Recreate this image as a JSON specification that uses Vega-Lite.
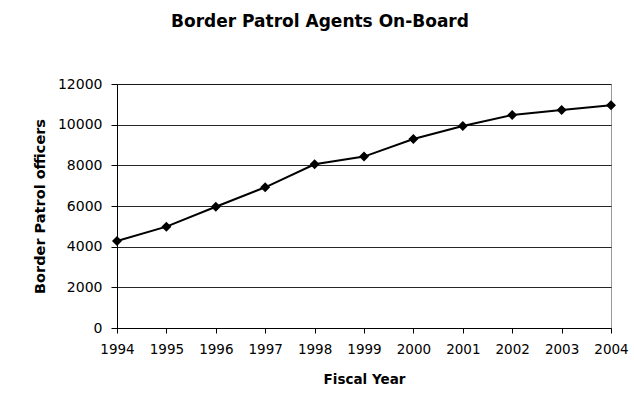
{
  "$schema": "https://vega.github.io/schema/vega-lite/v6.json",
  "autosize": "none",
  "width": 494,
  "height": 244,
  "padding": {"left": 117, "top": 84, "right": 23, "bottom": 76},
  "background": "white",
  "title": {
    "text": "Border Patrol Agents On-Board",
    "font": "DejaVu Sans",
    "fontSize": 17,
    "fontWeight": "bold",
    "color": "black",
    "anchor": "middle",
    "frame": "group",
    "dx": -44,
    "offset": 46
  },
  "data": {
    "values": [
      {"year": "1994", "officers": 4280},
      {"year": "1995", "officers": 4985},
      {"year": "1996", "officers": 5965},
      {"year": "1997", "officers": 6920},
      {"year": "1998", "officers": 8050},
      {"year": "1999", "officers": 8430},
      {"year": "2000", "officers": 9295},
      {"year": "2001", "officers": 9935},
      {"year": "2002", "officers": 10475},
      {"year": "2003", "officers": 10720},
      {"year": "2004", "officers": 10950}
    ]
  },
  "encoding": {
    "x": {
      "field": "year",
      "type": "ordinal",
      "scale": {"type": "point", "padding": 0},
      "axis": {
        "title": "Fiscal Year",
        "labelAngle": 0,
        "labelFont": "DejaVu Sans",
        "labelFontSize": 13.5,
        "labelColor": "black",
        "labelPadding": 9,
        "titleFont": "DejaVu Sans",
        "titleFontSize": 13.5,
        "titleFontWeight": "bold",
        "titleColor": "black",
        "titlePadding": 17,
        "domainColor": "black",
        "tickColor": "black",
        "tickSize": 5,
        "grid": false
      }
    },
    "y": {
      "field": "officers",
      "type": "quantitative",
      "scale": {"domain": [0, 12000], "nice": false},
      "axis": {
        "title": "Border Patrol officers",
        "values": [0, 2000, 4000, 6000, 8000, 10000, 12000],
        "format": "d",
        "labelFont": "DejaVu Sans",
        "labelFontSize": 14,
        "labelColor": "black",
        "labelPadding": 9,
        "titleFont": "DejaVu Sans",
        "titleFontSize": 14.5,
        "titleFontWeight": "bold",
        "titleColor": "black",
        "titlePadding": 10,
        "domainColor": "black",
        "tickColor": "black",
        "tickSize": 6,
        "grid": true,
        "gridColor": "black",
        "gridOpacity": 0.85,
        "gridWidth": 1
      }
    }
  },
  "layer": [
    {"mark": {"type": "line", "color": "black", "strokeWidth": 2}},
    {"mark": {"type": "point", "shape": "diamond", "filled": true, "color": "black", "opacity": 1, "size": 100}}
  ],
  "config": {
    "view": {"stroke": "#999999", "strokeWidth": 1}
  }
}
